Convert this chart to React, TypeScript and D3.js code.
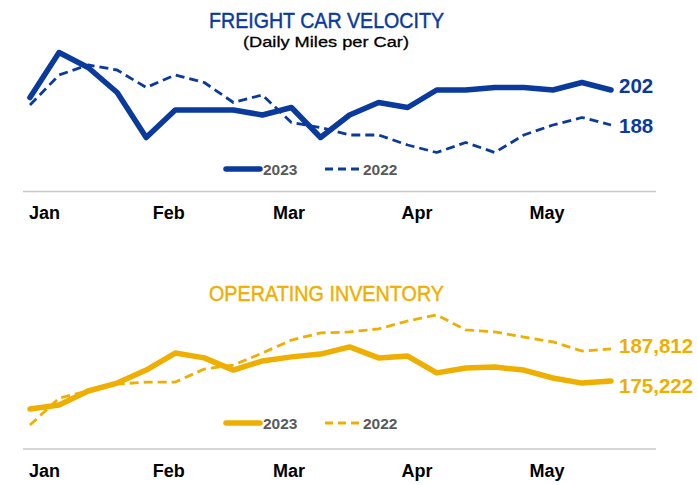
import React from "react";
import * as d3 from "d3";

const weeks = d3.range(21);
const monthLabels = ["Jan", "Feb", "Mar", "Apr", "May"];
const monthPos = [0.5, 4.78, 8.92, 13.32, 17.8];

const velocity2023 = [199, 217, 211, 201, 183, 194, 194, 194, 192, 195, 183, 192, 197, 195, 202, 202, 203, 203, 202, 205, 202];
const velocity2022 = [196, 208, 212, 210, 203, 208, 205, 197, 200, 189, 187, 184, 184, 180, 177, 181, 177, 184, 188, 191, 188];

const inventory2023 = [164200, 165800, 171300, 174400, 179500, 186200, 184300, 179500, 183100, 184700, 185800, 188600, 184300, 185000, 178400, 180300, 180700, 179500, 176400, 174400, 175222];
const inventory2022 = [157900, 168500, 171300, 174000, 174800, 174800, 179900, 181500, 186200, 191300, 194100, 194500, 195700, 198800, 201200, 195300, 194500, 192500, 190600, 187000, 187812];

const BLUE = "#0A3A9C";
const GOLD = "#EFAF00";
const LEGEND_GRAY = "#595959";
const NARROW = "'Liberation Sans Narrow', 'Arial Narrow', 'Liberation Sans', Arial, sans-serif";
const SANS = "'Liberation Sans', Arial, Helvetica, sans-serif";

const x = d3.scaleLinear().domain([0, 20]).range([30, 611]);

type PanelProps = {
  title: string;
  subtitle?: string;
  color: string;
  s2023: number[];
  s2022: number[];
  y: d3.ScaleLinear<number, number>;
  fmt: (v: number) => string;
  titleY: number;
  legendY: number;
  axisY: number;
  monthY: number;
  off2023: number;
  off2022: number;
};

function Panel({ title, subtitle, color, s2023, s2022, y, fmt, titleY, legendY, axisY, monthY, off2023, off2022 }: PanelProps) {
  const line = d3
    .line<number>()
    .x((_, i) => x(weeks[i]))
    .y((d) => y(d))
    .curve(d3.curveLinear);
  const last = weeks.length - 1;
  return (
    <g>
      <text x={209} y={titleY} fill={color} stroke={color} strokeWidth={0.45} fontFamily={NARROW} fontSize={22} textLength={235} lengthAdjust="spacingAndGlyphs">
        {title}
      </text>
      {subtitle && (
        <text x={243} y={titleY + 19} fill="#000" stroke="#000" strokeWidth={0.3} fontFamily={NARROW} fontSize={15.5} textLength={166} lengthAdjust="spacingAndGlyphs">
          {subtitle}
        </text>
      )}
      <line x1={23} x2={656} y1={axisY} y2={axisY} stroke="#C8C8C8" strokeWidth={1.5} />
      {monthLabels.map((m, i) => (
        <text key={m} x={x(monthPos[i])} y={monthY} textAnchor="middle" fontFamily={SANS} fontWeight="bold" fontSize={18} fill="#000">
          {m}
        </text>
      ))}
      <path d={line(s2022) || ""} fill="none" stroke={color} strokeWidth={2.8} strokeDasharray="9,5" strokeLinejoin="round" />
      <path d={line(s2023) || ""} fill="none" stroke={color} strokeWidth={5.5} strokeLinejoin="round" strokeLinecap="round" />
      <text x={619} y={y(s2023[last]) + off2023} fontFamily={SANS} fontWeight="bold" fontSize={20.5} fill={color}>
        {fmt(s2023[last])}
      </text>
      <text x={619} y={y(s2022[last]) + off2022} fontFamily={SANS} fontWeight="bold" fontSize={20.5} fill={color}>
        {fmt(s2022[last])}
      </text>
      <line x1={226} x2={260} y1={legendY} y2={legendY} stroke={color} strokeWidth={5.5} strokeLinecap="round" />
      <text x={263} y={legendY + 5.5} fontFamily={SANS} fontWeight="bold" fontSize={15.5} fill={LEGEND_GRAY}>
        2023
      </text>
      <line x1={325} x2={359} y1={legendY} y2={legendY} stroke={color} strokeWidth={2.8} strokeDasharray="8,5" />
      <text x={363} y={legendY + 5.5} fontFamily={SANS} fontWeight="bold" fontSize={15.5} fill={LEGEND_GRAY}>
        2022
      </text>
    </g>
  );
}

export default function App() {
  const yTop = d3.scaleLinear().domain([170, 220]).range([170, 45]);
  const yBottom = d3.scaleLinear().domain([150000, 205000]).range([445.2, 305.2]);
  return (
    <svg width={697} height={485} style={{ position: "absolute", left: 0, top: 0, background: "#fff" }}>
      <rect x={0} y={0} width={697} height={485} fill="#fff" />
      <Panel
        title="FREIGHT CAR VELOCITY"
        subtitle="(Daily Miles per Car)"
        color={BLUE}
        s2023={velocity2023}
        s2022={velocity2022}
        y={yTop}
        fmt={d3.format("d")}
        titleY={27.5}
        legendY={169}
        axisY={191.5}
        monthY={219}
        off2023={3}
        off2022={8}
      />
      <Panel
        title="OPERATING INVENTORY"
        color={GOLD}
        s2023={inventory2023}
        s2022={inventory2022}
        y={yBottom}
        fmt={d3.format(",")}
        titleY={301}
        legendY={423}
        axisY={449}
        monthY={477}
        off2023={12}
        off2022={4}
      />
    </svg>
  );
}
